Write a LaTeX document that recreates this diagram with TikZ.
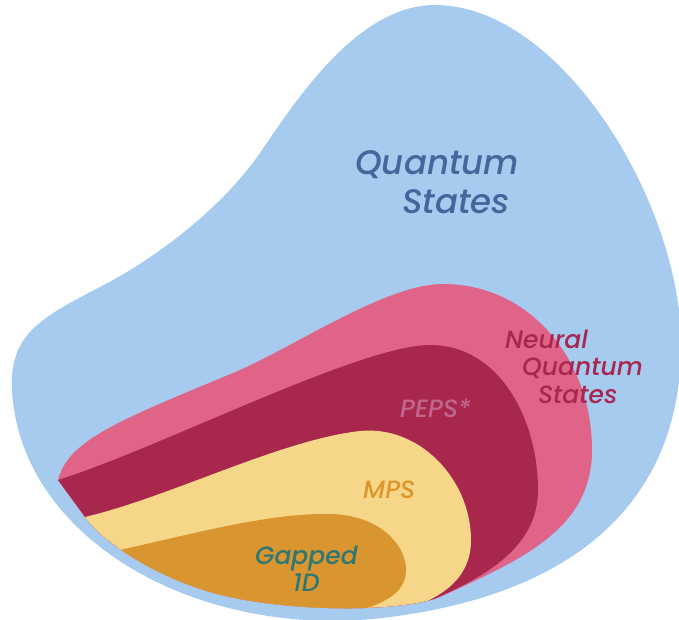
\documentclass[tikz,border=0pt]{standalone}
\usepackage{fontspec}
\setmainfont{Poppins}
\newfontfamily\lblfont{Poppins}[UprightFont=* Medium, ItalicFont=* Medium Italic]
\definecolor{qblue}{HTML}{A7CAEF}
\definecolor{npink}{HTML}{E06487}
\definecolor{dred}{HTML}{A8284D}
\definecolor{myel}{HTML}{F6D688}
\definecolor{oran}{HTML}{D9952F}
\definecolor{tblue}{HTML}{46659A}
\definecolor{tred}{HTML}{A62850}
\definecolor{tmauve}{HTML}{C2668F}
\definecolor{torange}{HTML}{DE962C}
\definecolor{tteal}{HTML}{2E7775}
\begin{document}
\begin{tikzpicture}[x=1pt,y=-1pt,
  lbl/.style={inner sep=0pt, anchor=base west},
  big/.style={lbl, font=\lblfont\itshape\fontsize{34}{34}\selectfont},
  small/.style={lbl, font=\lblfont\itshape\fontsize{25}{25}\selectfont}]
\useasboundingbox (0,0) rectangle (679,619);
\clip (0,0) rectangle (679,619);
% Quantum states (outer blob)
\fill[qblue] (435,5) .. controls (560,5) and (679,200) .. (681,340)
  .. controls (683,480) and (600,590) .. (390,617)
  .. controls (200,642) and (20,540) .. (12,390)
  .. controls (9,335) and (40,318) .. (100,287)
  .. controls (160,256) and (225,205) .. (262,150)
  .. controls (300,94) and (360,5) .. (435,5) -- cycle;
\begin{scope}
  \clip (58,480) .. controls (68,440) and (120,420) .. (233,373)
    .. controls (293,348) and (385,284) .. (443,284)
    .. controls (530,284) and (592,360) .. (592,450)
    .. controls (592,530) and (520,560) .. (440,597)
    .. controls (400,612) and (300,612) .. (230,597)
    .. controls (160,582) and (100,540) .. (85,517) -- cycle;
  % Neural quantum states
  \fill[npink] (0,0) rectangle (679,619);
  % PEPS
  \fill[dred] (58,480) .. controls (160,448) and (360,345) .. (430,345)
    .. controls (500,345) and (538,420) .. (538,490)
    .. controls (538,550) and (480,580) .. (420,605)
    -- (420,700) -- (0,700) -- (0,480) -- cycle;
  % MPS
  \fill[myel] (85,517) .. controls (170,497) and (280,440) .. (360,431)
    .. controls (420,425) and (471,480) .. (471,540)
    .. controls (471,580) and (440,598) .. (405,610)
    -- (405,700) -- (0,700) -- (0,517) -- cycle;
  % Gapped 1D
  \fill[oran] (120,550) .. controls (200,532) and (270,513) .. (330,514)
    .. controls (380,515) and (406,545) .. (406,570)
    .. controls (406,595) and (380,605) .. (350,613)
    -- (350,700) -- (0,700) -- (0,550) -- cycle;
\end{scope}
% labels
\node[big, text=tblue] (q1) at (355,174) {Quantum};
\node[big, text=tblue] (q2) at (402,213) {States};
\node[small, text=tred] (n1) at (505,348) {Neural};
\node[small, text=tred] (n2) at (522,375) {Quantum};
\node[small, text=tred] (n3) at (538,403) {States};
\node[small, text=tmauve] (peps) at (400,417) {PEPS*};
\node[small, text=torange] (mps) at (363,498) {MPS};
\node[small, text=tteal] (g1) at (255,564) {Gapped};
\node[small, text=tteal] (g2) at (293,591) {1D};
\end{tikzpicture}
\end{document}
